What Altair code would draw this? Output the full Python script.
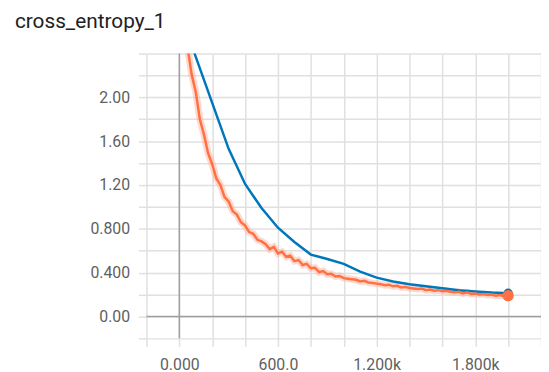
import altair as alt
import pandas as pd

# ---- data ----
blue_steps = [0, 100, 200, 300, 400, 500, 600, 700, 800, 900, 1000,
              1100, 1200, 1300, 1400, 1500, 1600, 1700, 1800, 1900, 2000]
blue_values = [2.80, 2.37, 1.95, 1.53, 1.21, 0.99, 0.81, 0.68, 0.565, 0.525, 0.48,
               0.41, 0.355, 0.32, 0.295, 0.275, 0.257, 0.24, 0.228, 0.218, 0.212]

orange_steps = list(range(50, 2001, 25))
orange_values = [
    2.46, 2.21, 2.05, 1.80, 1.66, 1.49, 1.39, 1.26, 1.20, 1.09,
    1.05, 0.96, 0.93, 0.86, 0.83, 0.77, 0.755, 0.70, 0.685, 0.66,
    0.615, 0.635, 0.575, 0.59, 0.545, 0.555, 0.505, 0.515, 0.47, 0.48,
    0.44, 0.445, 0.405, 0.415, 0.385, 0.39, 0.365, 0.37, 0.35, 0.345,
    0.34, 0.335, 0.32, 0.325, 0.31, 0.305, 0.30, 0.295, 0.285, 0.29,
    0.275, 0.28, 0.265, 0.27, 0.26, 0.255, 0.25, 0.255, 0.24, 0.245,
    0.235, 0.24, 0.23, 0.235, 0.225, 0.22, 0.225, 0.21, 0.22, 0.205,
    0.21, 0.20, 0.205, 0.195, 0.20, 0.19, 0.195, 0.185, 0.19,
]

x_label_values = [0, 600, 1200, 1800]
x_label_texts = ["0.000", "600.0", "1.200k", "1.800k"]
y_label_values = [0.0, 0.4, 0.8, 1.2, 1.6, 2.0]
y_label_texts = ["0.00", "0.400", "0.800", "1.20", "1.60", "2.00"]

x_grid = list(range(-200, 2201, 200))
y_grid = [round(-0.2 + 0.2 * i, 1) for i in range(14)]

blue = pd.DataFrame({"step": blue_steps, "value": blue_values, "run": "blue"})
orange = pd.DataFrame({"step": orange_steps, "value": orange_values, "run": "orange"})
ends = pd.concat([blue.tail(1), orange.tail(1)])
zero = pd.DataFrame({"step": [0], "value": [0.0]})


def label_expr(vals, texts):
    parts = []
    for v, t in zip(vals, texts):
        parts.append(f"abs(datum.value - ({v})) < 1e-6 ? '{t}'")
    return " : ".join(parts) + " : ''"


grid_color = "#e0e0e0"
label_color = "#5f5f5f"

x_enc = alt.X(
    "step:Q",
    scale=alt.Scale(domain=[-200, 2200], nice=False, zero=False),
    axis=alt.Axis(
        values=x_grid, labelExpr=label_expr(x_label_values, x_label_texts),
        title=None, domain=False, grid=True, gridColor=grid_color, gridWidth=1.5,
        tickColor=grid_color, tickWidth=1.5, tickSize=8, labelPadding=10,
        labelFont="Roboto", labelFontSize=16, labelColor=label_color,
        labelOverlap=False, labelFlush=False,
    ),
)
y_enc = alt.Y(
    "value:Q",
    scale=alt.Scale(domain=[-0.2, 2.4], nice=False, zero=False),
    axis=alt.Axis(
        values=y_grid, labelExpr=label_expr(y_label_values, y_label_texts),
        title=None, domain=False, grid=True, gridColor=grid_color, gridWidth=1.5,
        tickColor=grid_color, tickWidth=1.5, tickSize=8, labelPadding=9,
        labelFont="Roboto", labelFontSize=16, labelColor=label_color,
        labelOverlap=False, labelFlush=False,
    ),
)

zero_x = alt.Chart(zero).mark_rule(color="#9e9e9e", strokeWidth=1.5).encode(x=x_enc)
zero_y = alt.Chart(zero).mark_rule(color="#9e9e9e", strokeWidth=1.5).encode(y=y_enc)

halo = alt.Chart(orange).mark_line(
    color="#ffab91", strokeWidth=7, opacity=0.45, clip=True
).encode(x=x_enc, y=y_enc)
blue_line = alt.Chart(blue).mark_line(
    color="#0077bb", strokeWidth=2.5, clip=True
).encode(x=x_enc, y=y_enc)
orange_line = alt.Chart(orange).mark_line(
    color="#ff7043", strokeWidth=2.5, clip=True
).encode(x=x_enc, y=y_enc)
end_pts = alt.Chart(ends).mark_point(filled=True, opacity=1).encode(
    x=x_enc, y=y_enc,
    color=alt.Color("run:N", scale=alt.Scale(domain=["blue", "orange"],
                                             range=["#0077bb", "#ff7043"]),
                    legend=None),
    size=alt.Size("run:N", scale=alt.Scale(domain=["blue", "orange"],
                                           range=[90, 130]), legend=None),
)

chart = alt.layer(zero_x, zero_y, halo, blue_line, orange_line, end_pts).properties(
    width=399, height=288,
    autosize="none",
    padding={"left": 140, "top": 44, "right": 0, "bottom": 40},
    title=alt.TitleParams(
        "cross_entropy_1", anchor="start", frame="group", dx=-133, dy=23, offset=20,
        baseline="alphabetic", font="Roboto", fontSize=21, fontWeight="normal",
        color="#212121",
    ),
).configure_view(strokeWidth=0)

chart.save("out.html", embed_options={"renderer": "svg", "actions": False})
